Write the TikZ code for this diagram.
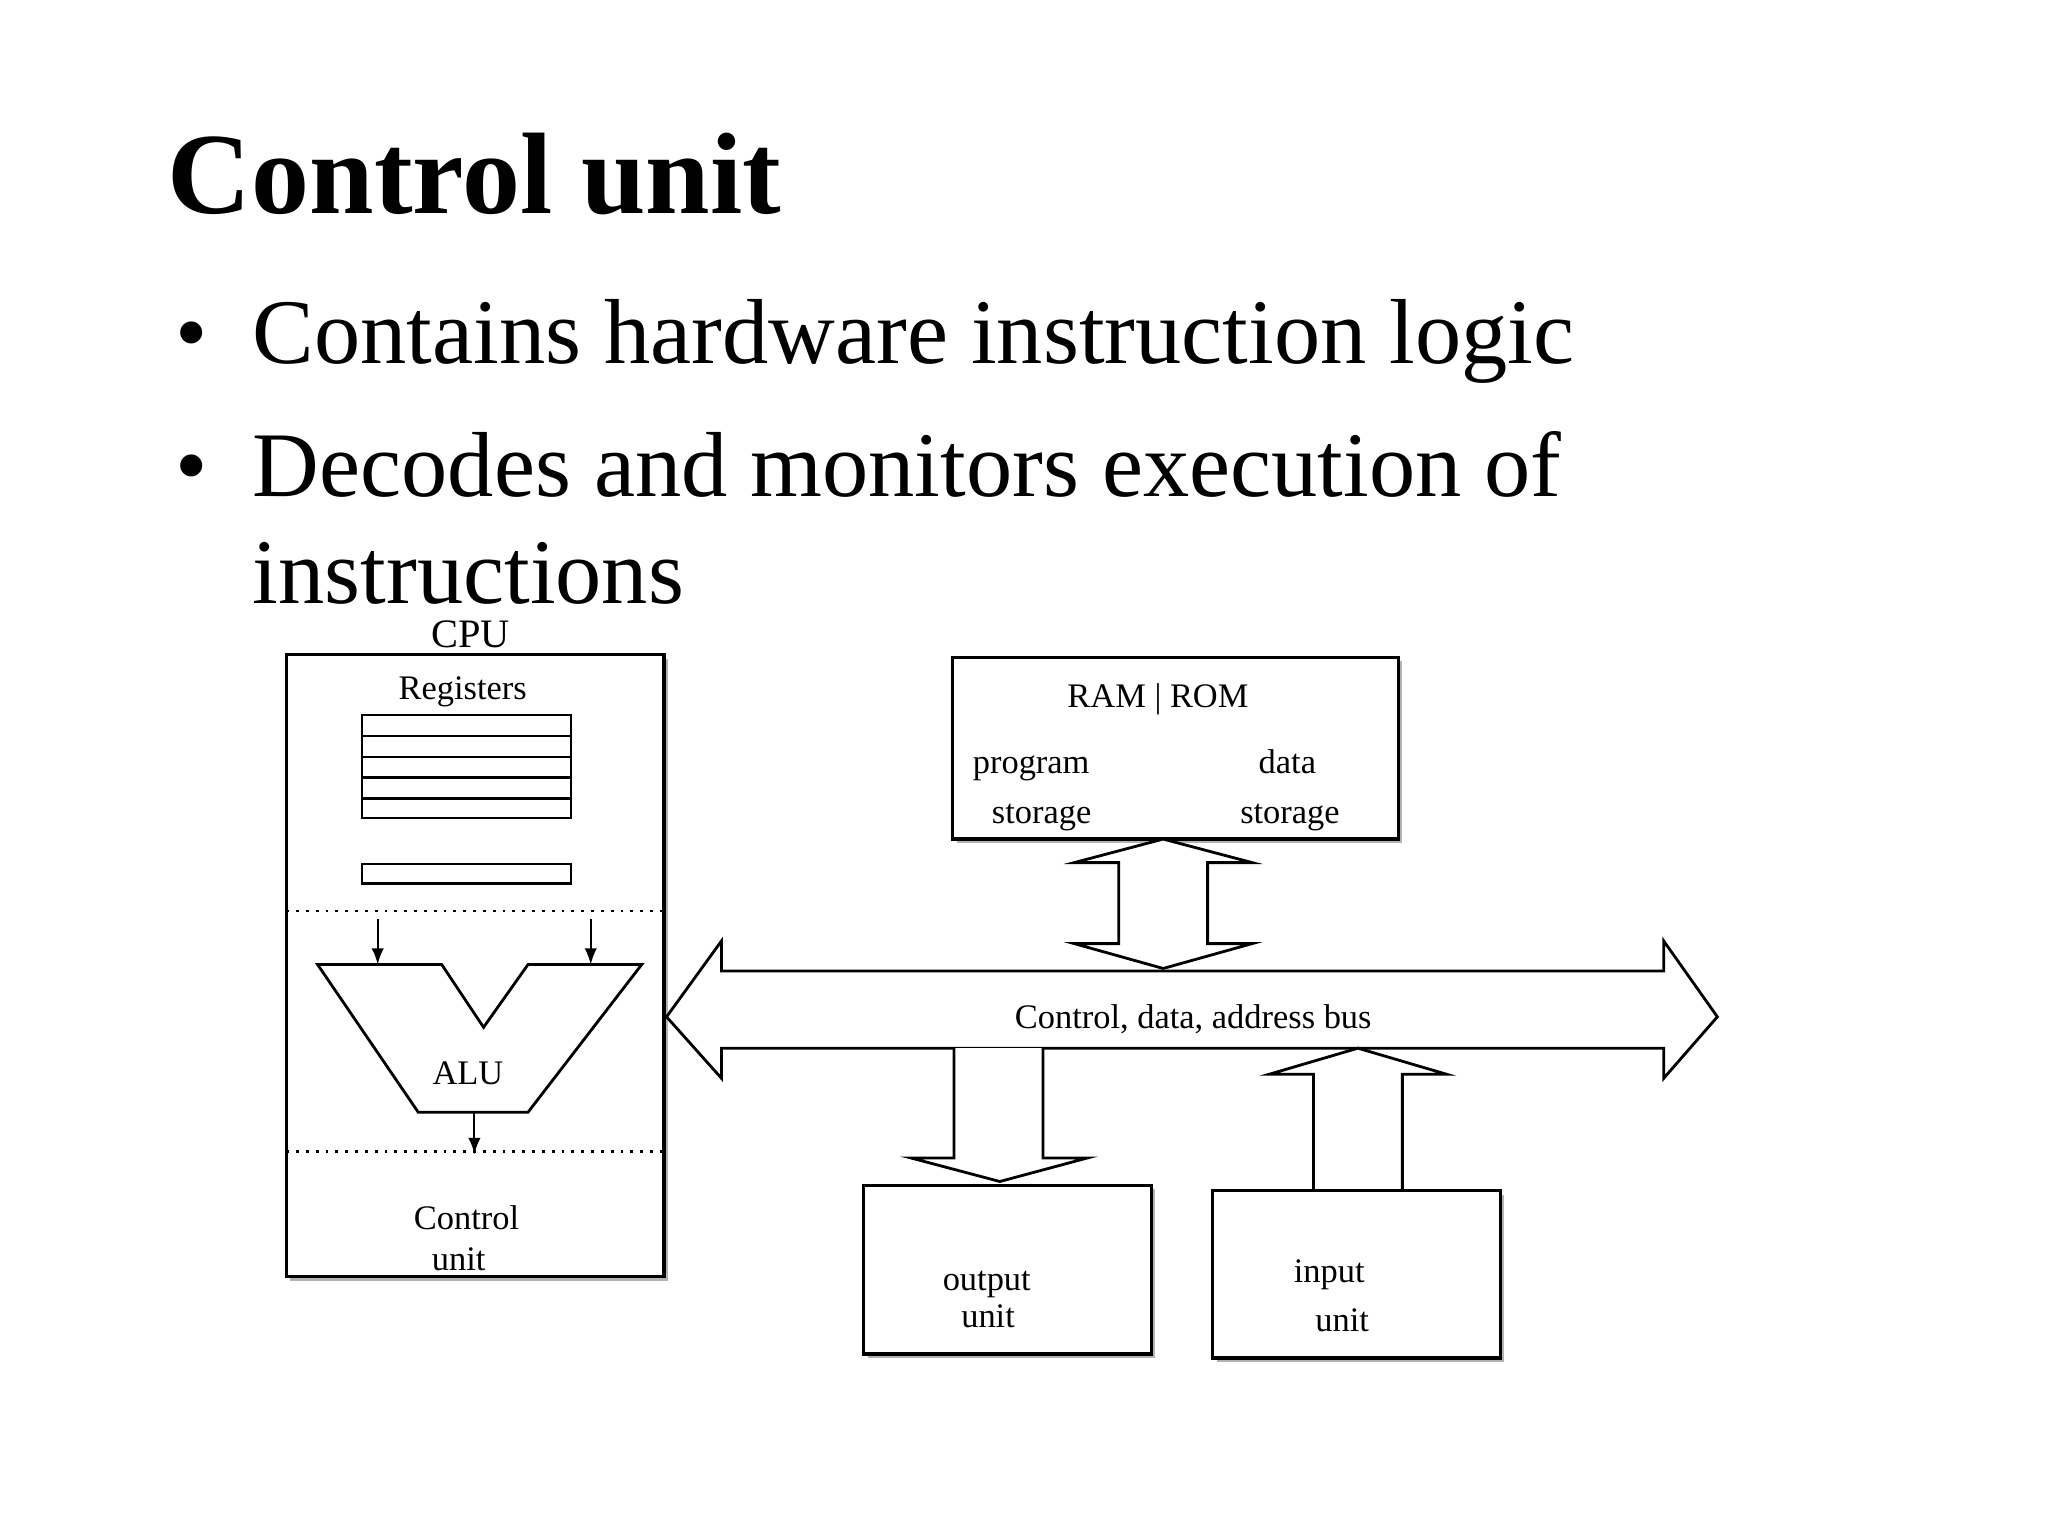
\documentclass[tikz,border=0pt]{standalone}
\usepackage{fontspec}
\setmainfont{Liberation Serif}
\begin{document}
\begin{tikzpicture}[x=0.01307cm,y=-0.01307cm,
  lbl/.style={inner sep=0pt,text height=6.5pt,text depth=2pt,font=\fontsize{9.8}{12}\selectfont},
  box/.style={draw,line width=0.9pt,fill=white},
  shad/.style={fill=gray!60,draw=none},
  fat/.style={draw,line width=0.8pt,fill=white,line join=miter},
  dotl/.style={dotted,line width=0.8pt},
  arr/.style={-latex,line width=0.6pt}]
\useasboundingbox (0,0) rectangle (1567,1175);
% title and bullets
\node[anchor=base west,inner sep=0pt,font=\fontsize{33}{40}\selectfont\bfseries] (title) at (128,163) {Control unit};
\node[anchor=base west,inner sep=0pt,font=\fontsize{26.3}{30}\selectfont] (b1) at (134,278) {•};
\node[anchor=base west,inner sep=0pt,font=\fontsize{26.3}{30}\selectfont] (t1) at (193,278) {Contains hardware instruction logic};
\node[anchor=base west,inner sep=0pt,font=\fontsize{26.3}{30}\selectfont] (b2) at (134,380) {•};
\node[anchor=base west,inner sep=0pt,font=\fontsize{26.3}{30}\selectfont] (t2) at (193,380) {Decodes and monitors execution of};
\node[anchor=base west,inner sep=0pt,font=\fontsize{26.3}{30}\selectfont] (t3) at (193,462) {instructions};
% CPU
\fill[shad] (222,504) rectangle (511,980);
\draw[box] (219,501) rectangle (508,977);
\node[lbl,font=\fontsize{11.5}{14}\selectfont] (cpu) at (360,489) {CPU};
\node[lbl] (reg) at (354,529) {Registers};
\draw[line width=0.7pt] (277,547) rectangle (437,626);
\foreach \y in {563,579,595,611} \draw[line width=0.7pt] (277,\y) -- (437,\y);
\draw[line width=0.7pt] (277,661) rectangle (437,676);
\draw[dotl] (219,697) -- (508,697);
\draw[dotl] (219,881) -- (508,881);
\coordinate (a1s) at (289,703); \coordinate (a1e) at (289,738);
\coordinate (a2s) at (452,703); \coordinate (a2e) at (452,738);
\draw[arr] (a1s) -- (a1e);
\draw[arr] (a2s) -- (a2e);
\draw[line width=0.8pt] (243,738) -- (338,738) -- (370,786) -- (404,738) -- (491,738) -- (404,851) -- (320,851) -- cycle;
\node[lbl] (alu) at (358,824) {ALU};
\coordinate (a3s) at (363,851); \coordinate (a3e) at (363,883);
\draw[arr] (a3s) -- (a3e);
\node[lbl] (cu1) at (357,935) {Control};
\node[lbl] (cu2) at (351,966) {unit};
% memory
\fill[shad] (732,506) rectangle (1073,645);
\draw[box] (729,503) rectangle (1070,642);
\node[lbl] (ram) at (886,535) {RAM | ROM};
\node[lbl] (p1) at (789,586) {program};
\node[lbl] (p2) at (797,624) {storage};
\node[lbl] (d1) at (985,586) {data};
\node[lbl] (d2) at (987,624) {storage};
% memory <-> bus arrow
\draw[fat] (890,642) -- (958,660) -- (924,660) -- (924,722) -- (958,722) -- (890,741)
  -- (822,722) -- (856,722) -- (856,660) -- (822,660) -- cycle;
% bus
\draw[fat] (510,778) -- (552,720) -- (552,743) -- (1273,743) -- (1273,720) -- (1314,778)
  -- (1273,825) -- (1273,802) -- (552,802) -- (552,825) -- cycle;
\node[lbl] (bus) at (913,781) {Control, data, address bus};
% output
\draw[fat] (730,802) -- (730,886) -- (697,886) -- (765,904) -- (832,886) -- (798,886) -- (798,802);
\fill[shad] (664,910) rectangle (884,1039);
\draw[box] (661,907) rectangle (881,1036);
\node[lbl] (o1) at (755,981) {output};
\node[lbl] (o2) at (756,1010) {unit};
% input
\draw[fat] (1005,911) -- (1005,822) -- (971,822) -- (1039,802) -- (1107,822) -- (1073,822) -- (1073,911);
\fill[shad] (931,914) rectangle (1151,1042);
\draw[box] (928,911) rectangle (1148,1039);
\node[lbl] (i1) at (1017,975) {input};
\node[lbl] (i2) at (1027,1013) {unit};
\end{tikzpicture}
\end{document}
